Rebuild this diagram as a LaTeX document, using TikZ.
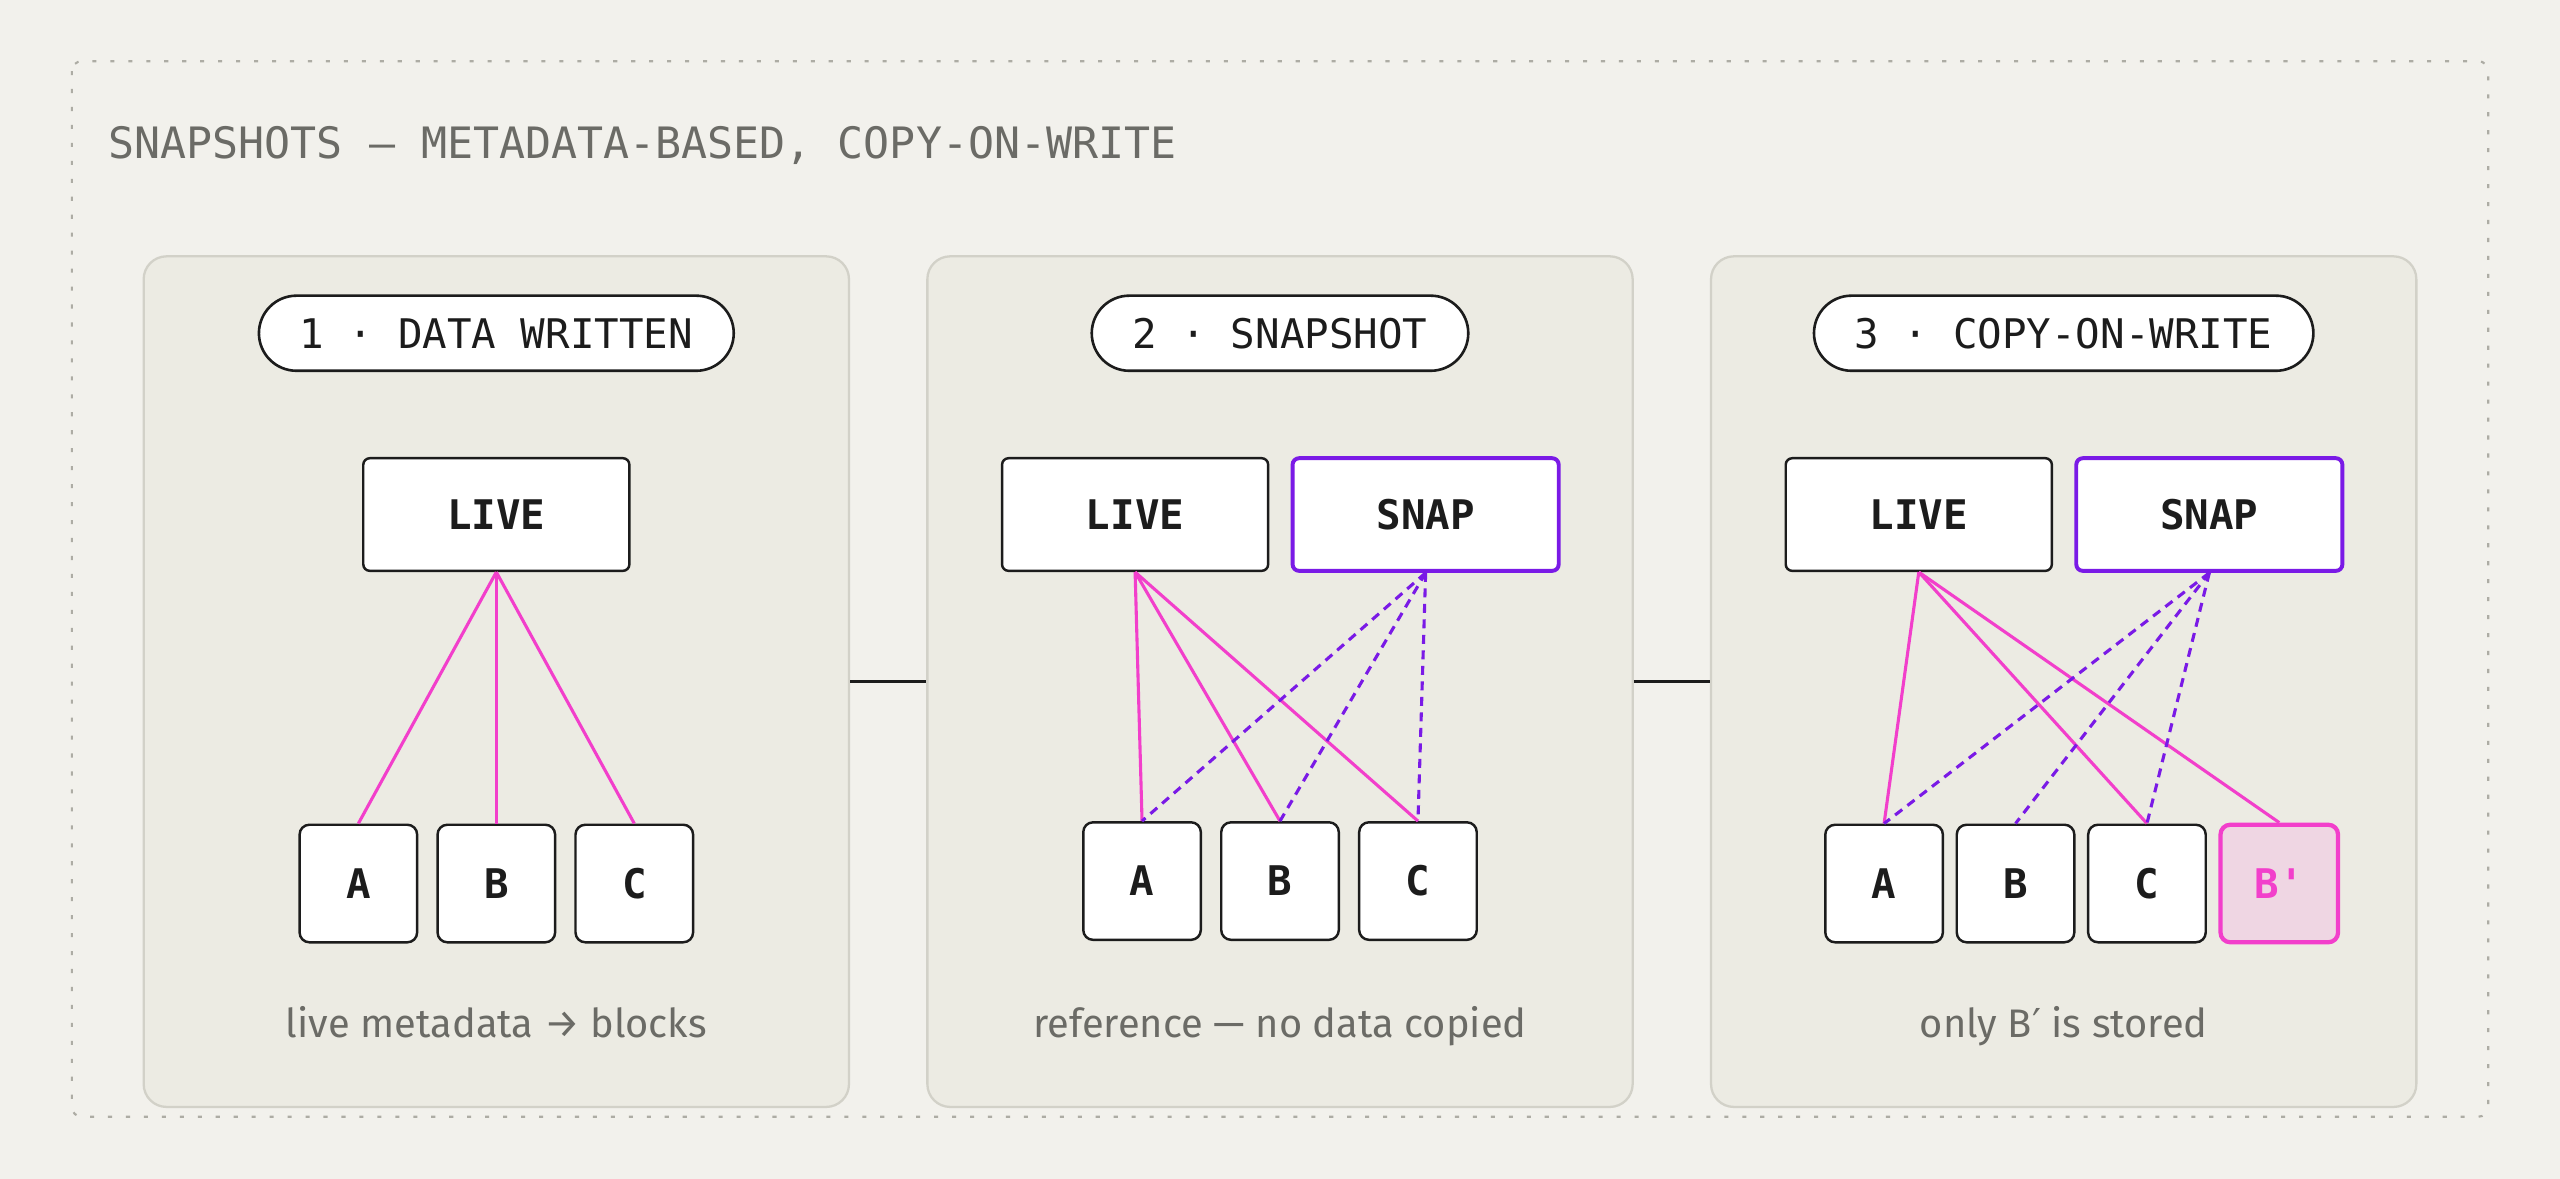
\documentclass[tikz,border=0pt]{standalone}
\usepackage{fontspec}
\setmainfont{Fira Sans}
\setmonofont{DejaVu Sans Mono}
\newfontfamily\primefont{DejaVu Sans}
\usetikzlibrary{positioning}

\definecolor{bgcol}{HTML}{F2F1EC}
\definecolor{panelfill}{HTML}{ECEBE3}
\definecolor{panelline}{HTML}{D2D1C8}
\definecolor{outerline}{HTML}{ADACA4}
\definecolor{textgray}{HTML}{6B6B66}
\definecolor{ink}{HTML}{1C1C1C}
\definecolor{pinkcol}{HTML}{F23FCB}
\definecolor{pinkfill}{HTML}{EFD6E3}
\definecolor{snapcol}{HTML}{7A1AE6}

\begin{document}
\begin{tikzpicture}[
		x=1pt,y=-1pt,
		node distance=11pt,
		panelbox/.style={draw=panelline,line width=1.4pt,fill=panelfill,rounded corners=14pt,minimum width=432pt,minimum height=521pt},
		stagelabel/.style={draw=ink,line width=1.6pt,fill=white,rounded corners=23pt,minimum height=46pt,inner xsep=25pt,text=ink,font=\ttfamily\fontsize{25}{25}\selectfont},
		metabox/.style={draw=ink,line width=1.5pt,fill=white,rounded corners=4pt,minimum width=163pt,minimum height=69pt,text=ink,font=\ttfamily\bfseries\fontsize{25}{25}\selectfont},
		snapbox/.style={metabox,draw=snapcol,line width=2.4pt},
		blockbox/.style={draw=ink,line width=1.5pt,fill=white,rounded corners=6pt,minimum size=72pt,inner sep=0pt,text=ink,font=\ttfamily\bfseries\fontsize{25}{25}\selectfont},
		newblock/.style={blockbox,draw=pinkcol,fill=pinkfill,line width=2.6pt,text=pinkcol},
		liveline/.style={draw=pinkcol,line width=1.9pt},
		snapline/.style={draw=snapcol,line width=1.9pt,dash pattern=on 5.5pt off 4pt},
		caption/.style={anchor=base,text=textgray,font=\fontsize{24.4}{24.4}\selectfont}
		]
		\fill[bgcol] (0,0) rectangle (1568,722);
		\useasboundingbox (0,0) rectangle (1568,722);
		\draw[outerline,line width=1.3pt,dash pattern=on 2.5pt off 8.5pt,rounded corners=6pt] (44,37.5) rectangle (1524,684);
		\node[anchor=base west,text=textgray,font=\ttfamily\fontsize{26.5}{26.5}\selectfont] (title) at (63,97) {SNAPSHOTS — METADATA-BASED, COPY-ON-WRITE};
		
		% three stages
		\node[panelbox] (p1) at (304,417.5) {};
		\node[panelbox] (p2) at (784,417.5) {};
		\node[panelbox] (p3) at (1264,417.5) {};
		\draw[ink,line width=2.2pt] (p1.east) -- (p2.west);
		\draw[ink,line width=2.2pt] (p2.east) -- (p3.west);
		
		% stage 1
		\node[stagelabel,below=24pt of p1.north] (s1) {1 · DATA WRITTEN};
		\node[metabox,below=52pt of s1] (live1) {LIVE};
		\node[blockbox,below=154pt of live1] (b1) {B};
		\node[blockbox,left=of b1] (a1) {A};
		\node[blockbox,right=of b1] (c1) {C};
		\path[liveline]
		(live1.south) edge (a1.north)
		(live1.south) edge (b1.north)
		(live1.south) edge (c1.north);
		\node[caption] (cap1) at ([yshift=43pt]p1.south) {live metadata → blocks};
		
		% stage 2
		\node[stagelabel,below=24pt of p2.north] (s2) {2 · SNAPSHOT};
		\node[metabox,below left=52pt and 6.5pt of s2.south] (live2) {LIVE};
		\node[snapbox,right=13pt of live2] (snap2) {SNAP};
		\node[blockbox,below=275pt of s2] (b2) {B};
		\node[blockbox,left=of b2] (a2) {A};
		\node[blockbox,right=of b2] (c2) {C};
		\path[liveline]
		(live2.south) edge (a2.north)
		(live2.south) edge (b2.north)
		(live2.south) edge (c2.north);
		\path[snapline]
		(snap2.south) edge (a2.north)
		(snap2.south) edge (b2.north)
		(snap2.south) edge (c2.north);
		\node[caption] (cap2) at ([yshift=43pt]p2.south) {reference — no data copied};
		
		% stage 3
		\node[stagelabel,below=24pt of p3.north] (s3) {3 · COPY-ON-WRITE};
		\node[metabox,below left=52pt and 6.5pt of s3.south] (live3) {LIVE};
		\node[snapbox,right=13pt of live3] (snap3) {SNAP};
		\node[blockbox,below right=154pt and 22.5pt of live3.south] (b3) {B};
		\node[blockbox,left=7pt of b3] (a3) {A};
		\node[blockbox,right=7pt of b3] (c3) {C};
		\node[newblock,right=7pt of c3] (bnew3) {B'};
		\path[liveline]
		(live3.south) edge (a3.north)
		(live3.south) edge (c3.north)
		(live3.south) edge (bnew3.north);
		\path[snapline]
		(snap3.south) edge (a3.north)
		(snap3.south) edge (b3.north)
		(snap3.south) edge (c3.north);
		\node[caption] (cap3) at ([yshift=43pt]p3.south) {only B{\primefont ′} is stored};
	\end{tikzpicture}
\end{document}
